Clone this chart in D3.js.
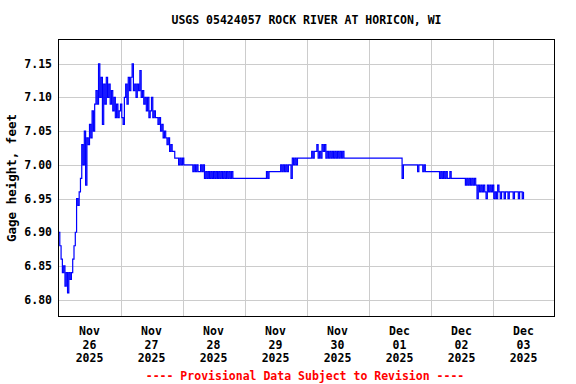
<!DOCTYPE html>
<meta charset="utf-8">
<title>USGS 05424057 Rock River at Horicon</title>
<style>
  body { margin: 0; background: white; }
  svg { display: block; background: white; }
  text { font-family: 'DejaVu Sans Mono', monospace; font-weight: bold; font-size: 11.5px; }
  .grid line { stroke: #cccccc; stroke-width: 1px; }
</style>
<body>
<div id="chart"></div>
<script src="https://d3js.org/d3.v7.min.js"></script>
<script>

// gage height, feet, every 30 minutes from Nov 26 00:00
var nov26 = [6.90,6.88,6.86,6.84,6.85,6.82,6.84,6.81,6.84,6.83,6.84,6.86,6.88,6.90,6.95,6.94,6.96,6.98,7.03,7.00,7.05,6.97,7.04,7.03,
             7.06,7.04,7.08,7.05,7.09,7.11,7.09,7.15,7.10,7.13,7.06,7.12,7.09,7.13,7.10,7.12,7.09,7.11,7.08,7.10,7.07,7.09,7.07,7.08];
var nov27 = [7.09,7.07,7.06,7.10,7.12,7.09,7.13,7.11,7.13,7.15,7.11,7.12,7.10,7.12,7.11,7.14,7.10,7.11,7.09,7.10,7.08,7.10,7.07,7.08,
             7.10,7.07,7.08,7.07,7.07,7.06,7.07,7.05,7.06,7.04,7.05,7.04,7.03,7.04,7.02,7.03,7.02,7.02,7.01,7.01,7.01,7.00,7.01,7.00];
var nov28 = [7.01,7.00,7.00,7.00,7.00,7.00,7.00,7.00,6.99,7.00,6.99,7.00,6.99,6.99,7.00,6.99,7.00,6.98,6.99,6.98,6.99,6.98,6.99,6.98,
             6.99,6.98,6.99,6.98,6.99,6.98,6.99,6.98,6.99,6.98,6.99,6.98,6.99,6.98,6.99,6.98,6.98,6.98,6.98,6.98,6.98,6.98,6.98,6.98];
var nov29 = [6.98,6.98,6.98,6.98,6.98,6.98,6.98,6.98,6.98,6.98,6.98,6.98,6.98,6.98,6.98,6.98,6.98,6.99,6.98,6.99,6.99,6.99,6.99,6.99,
             6.99,6.99,6.99,6.99,7.00,6.99,7.00,6.99,7.00,6.99,7.00,7.00,6.98,7.01,7.00,7.01,7.00,7.01,7.01,7.01,7.01,7.01,7.01,7.01];
var nov30 = [7.01,7.01,7.01,7.01,7.02,7.01,7.02,7.02,7.03,7.01,7.02,7.01,7.03,7.02,7.03,7.01,7.02,7.01,7.02,7.01,7.02,7.01,7.02,7.01,
             7.02,7.01,7.02,7.01,7.02,7.01,7.01,7.01,7.01,7.01,7.01,7.01,7.01,7.01,7.01,7.01,7.01,7.01,7.01,7.01,7.01,7.01,7.01,7.01];
var dec01 = [7.01,7.01,7.01,7.01,7.01,7.01,7.01,7.01,7.01,7.01,7.01,7.01,7.01,7.01,7.01,7.01,7.01,7.01,7.01,7.01,7.01,7.01,7.01,7.01,
             7.01,7.01,6.98,7.00,7.00,7.00,7.00,7.00,7.00,7.00,7.00,7.00,7.00,7.00,6.99,7.00,7.00,7.00,6.99,7.00,6.99,6.99,6.99,6.99];
var dec02 = [6.99,6.99,6.99,6.99,6.99,6.99,6.99,6.98,6.99,6.98,6.99,6.98,6.99,6.98,6.98,6.99,6.98,6.98,6.98,6.98,6.98,6.98,6.98,6.98,
             6.98,6.98,6.98,6.97,6.98,6.97,6.98,6.97,6.98,6.97,6.98,6.97,6.95,6.97,6.96,6.97,6.96,6.97,6.96,6.95,6.97,6.96,6.97,6.96];
var dec03 = [6.97,6.95,6.96,6.95,6.97,6.96,6.95,6.96,6.96,6.95,6.96,6.96,6.95,6.96,6.96,6.96,6.95,6.96,6.96,6.96,6.95,6.96,6.96,6.95,
             6.96];

var yTicks = [6.80, 6.85, 6.90, 6.95, 7.00, 7.05, 7.10, 7.15];
var dayLabels = [["Nov","26","2025"],["Nov","27","2025"],["Nov","28","2025"],["Nov","29","2025"],
                 ["Nov","30","2025"],["Dec","01","2025"],["Dec","02","2025"],["Dec","03","2025"]];

var width = 576, height = 384;
var plot = {left: 58.5, right: 554.5, top: 39.5, bottom: 316.5};

var start = new Date(2025, 10, 26);
var end = new Date(2025, 11, 4);

var values = [].concat(nov26, nov27, nov28, nov29, nov30, dec01, dec02, dec03);
var data = values.map(function(v, i) {
  return {date: new Date(start.getTime() + i * 30 * 60 * 1000), value: v};
});

var svg = d3.select("#chart").append("svg")
  .attr("width", width)
  .attr("height", height);

var x = d3.scaleTime().domain([start, end]).range([plot.left, plot.right]);
var y = d3.scaleLinear().domain([6.775, 7.186]).range([plot.bottom, plot.top]);

// grid lines
var days = d3.timeDay.range(d3.timeDay.offset(start, 1), end);
var grid = svg.append("g").attr("class", "grid");
grid.selectAll(".vx").data(days).enter().append("line")
  .attr("x1", function(d) { return Math.round(x(d)) + 0.5; })
  .attr("x2", function(d) { return Math.round(x(d)) + 0.5; })
  .attr("y1", plot.top).attr("y2", plot.bottom);
grid.selectAll(".hy").data(yTicks).enter().append("line")
  .attr("x1", plot.left).attr("x2", plot.right)
  .attr("y1", function(d) { return Math.round(y(d)) + 0.5; })
  .attr("y2", function(d) { return Math.round(y(d)) + 0.5; });

// y labels
svg.append("g").selectAll("text").data(yTicks).enter().append("text")
  .attr("x", 52)
  .attr("y", function(d) { return y(d) + 4; })
  .attr("text-anchor", "end")
  .text(function(d) { return d.toFixed(2); });

// x labels, centred on noon of each day
var noons = d3.timeDay.range(start, end).map(function(d) { return d3.timeHour.offset(d, 12); });
var xl = svg.append("g").selectAll("text").data(noons).enter().append("text")
  .attr("text-anchor", "middle")
  .attr("x", function(d) { return x(d); })
  .attr("y", 335);
xl.each(function(d, i) {
  var t = d3.select(this);
  dayLabels[i].forEach(function(s, k) {
    t.append("tspan").attr("x", x(d)).attr("y", 335 + k * 13.5).text(s);
  });
});

// data line
svg.append("path")
  .datum(data)
  .attr("fill", "none")
  .attr("stroke", "#0000ff")
  .attr("stroke-width", 1.2)
  .attr("d", d3.line()
    .curve(d3.curveStepAfter)
    .x(function(d) { return x(d.date); })
    .y(function(d) { return y(d.value); }));

// frame
svg.append("rect")
  .attr("x", plot.left).attr("y", plot.top)
  .attr("width", plot.right - plot.left)
  .attr("height", plot.bottom - plot.top)
  .attr("fill", "none")
  .attr("stroke", "black")
  .attr("stroke-width", 1);

// title
svg.append("text")
  .attr("x", (plot.left + plot.right) / 2)
  .attr("y", 24)
  .attr("text-anchor", "middle")
  .text("USGS 05424057 ROCK RIVER AT HORICON, WI");

// y axis title
svg.append("text")
  .attr("transform", "translate(16," + ((plot.top + plot.bottom) / 2) + ") rotate(-90)")
  .attr("text-anchor", "middle")
  .style("font-size", "12.5px")
  .text("Gage height, feet");

// footer
svg.append("text")
  .attr("x", 305)
  .attr("y", 380)
  .attr("text-anchor", "middle")
  .attr("fill", "#ff0000")
  .text("---- Provisional Data Subject to Revision ----");

</script>
</body>
